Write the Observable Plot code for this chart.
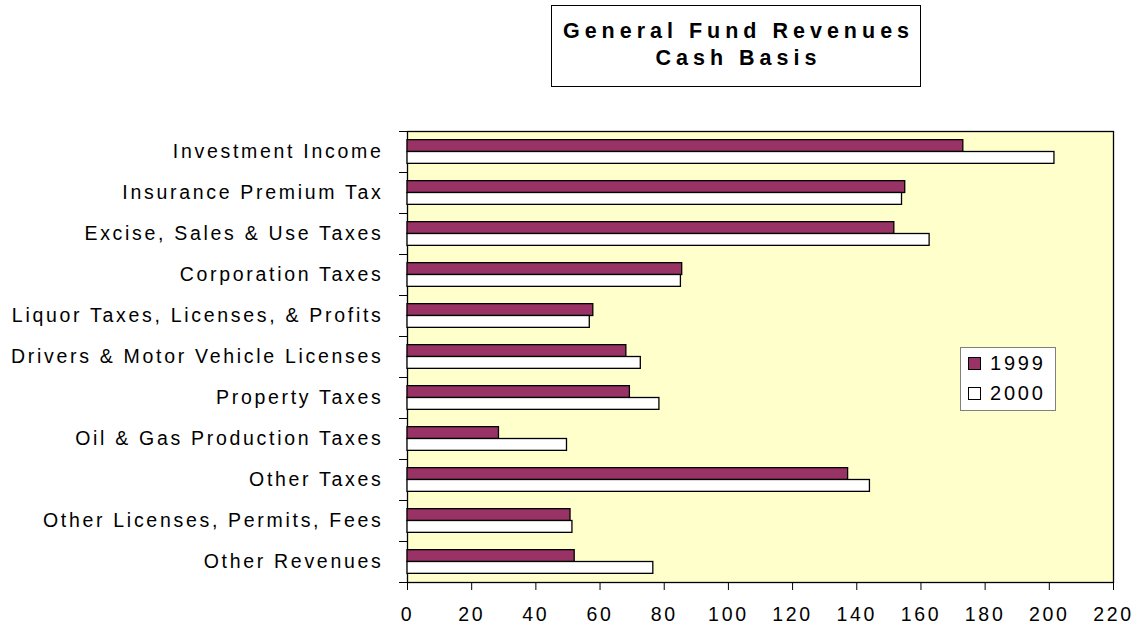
<!DOCTYPE html>
<html>
<head>
<meta charset="utf-8">
<script src="https://cdn.jsdelivr.net/npm/d3@7"></script>
<script src="https://cdn.jsdelivr.net/npm/@observablehq/plot@0.6"></script>
<style>
  body { margin: 0; background: #fff; }
  #wrap { position: relative; width: 1136px; height: 626px; font-family: "Liberation Sans", Arial, sans-serif; }
  #chart { position: absolute; left: 0; top: 0; }
  #title {
    position: absolute; left: 551px; top: 5px; width: 368px; height: 80px;
    border: 1.5px solid #000; background: #fff; box-sizing: content-box;
    text-align: center; font-weight: bold; font-size: 21.5px; letter-spacing: 5px;
    line-height: 26.5px; padding-top: 0; color: #000;
  }
  #title .inner { padding-top: 12px; padding-left: 5px; }
  #legend {
    position: absolute; left: 960px; top: 347px; width: 94px; height: 62px;
    border: 1px solid #808080; background: #fff;
  }
  #legend .item { position: absolute; left: 7px; height: 20px; display: flex; align-items: center; }
  #legend .sw { width: 13px; height: 13px; border: 1px solid #000; box-sizing: border-box; margin-right: 9px; }
  #legend .lb { font-size: 20px; letter-spacing: 2.8px; color: #000; line-height: 20px; }
</style>
</head>
<body>
<div id="wrap">
  <div id="chart"></div>
  <div id="title"><div class="inner">General Fund Revenues<br>Cash Basis</div></div>
  <div id="legend"></div>
</div>
<script>
// ---- Data ----
const categories = [
  "Investment Income",
  "Insurance Premium Tax",
  "Excise, Sales & Use Taxes",
  "Corporation Taxes",
  "Liquor Taxes, Licenses, & Profits",
  "Drivers & Motor Vehicle Licenses",
  "Property Taxes",
  "Oil & Gas Production Taxes",
  "Other Taxes",
  "Other Licenses, Permits, Fees",
  "Other Revenues"
];
const seriesNames = ["1999", "2000"];
const seriesColors = ["#993366", "#FFFFFF"];
const values1999 = [173.2, 155.1, 151.7, 85.6, 57.9, 68.2, 69.3, 28.5, 137.3, 50.8, 52.1];
const values2000 = [201.6, 154.1, 162.7, 85.2, 56.8, 72.7, 78.5, 49.7, 144.1, 51.4, 76.6];
const xTicks = [0, 20, 40, 60, 80, 100, 120, 140, 160, 180, 200, 220];

// ---- Table built from the arrays ----
const rows1999 = categories.map((c, i) => ({category: c, series: seriesNames[0], value: values1999[i]}));
const rows2000 = categories.map((c, i) => ({category: c, series: seriesNames[1], value: values2000[i]}));

const step = (582 - 131) / categories.length;
const half = step / 2;
const barH = 11.85;
const topPad = half - barH;

const chart = Plot.plot({
  width: 1136,
  height: 626,
  marginLeft: 407,
  marginRight: 23,
  marginTop: 131,
  marginBottom: 44,
  style: {
    fontFamily: "'Liberation Sans', Arial, sans-serif",
    fontSize: "19.5px",
    letterSpacing: "2.7px",
    color: "#000",
    background: "transparent",
    overflow: "visible"
  },
  x: {domain: [0, 220], label: null},
  y: {domain: categories, padding: 0, label: null, axis: null},
  color: {domain: seriesNames, range: seriesColors},
  marks: [
    Plot.frame({fill: "#FFFFCC", stroke: "#000", strokeWidth: 1.3}),
    Plot.barX(rows1999, {
      x: "value", y: "category", fill: "series",
      stroke: "#000", strokeWidth: 1.3,
      insetTop: topPad, insetBottom: half
    }),
    Plot.barX(rows2000, {
      x: "value", y: "category", fill: "series",
      stroke: "#000", strokeWidth: 1.3,
      insetTop: half, insetBottom: topPad
    }),
    Plot.axisX({ticks: xTicks, tickSize: 8, tickPadding: 17, label: null, tickFormat: d => String(d)}),
    Plot.axisY({tickSize: 0, tickPadding: 24, label: null}),
    Plot.axisY({tickSize: 8, label: null, tickFormat: () => "", dy: -half}),
    Plot.axisY({tickSize: 8, label: null, tickFormat: () => "", dy: half})
  ]
});
document.getElementById("chart").appendChild(chart);

// ---- Legend (HTML) ----
const legend = d3.select("#legend");
seriesNames.forEach((name, i) => {
  const item = legend.append("div").attr("class", "item").style("top", (5 + i * 30) + "px");
  item.append("div").attr("class", "sw").style("background", seriesColors[i]);
  item.append("div").attr("class", "lb").text(name);
});
</script>
</body>
</html>
